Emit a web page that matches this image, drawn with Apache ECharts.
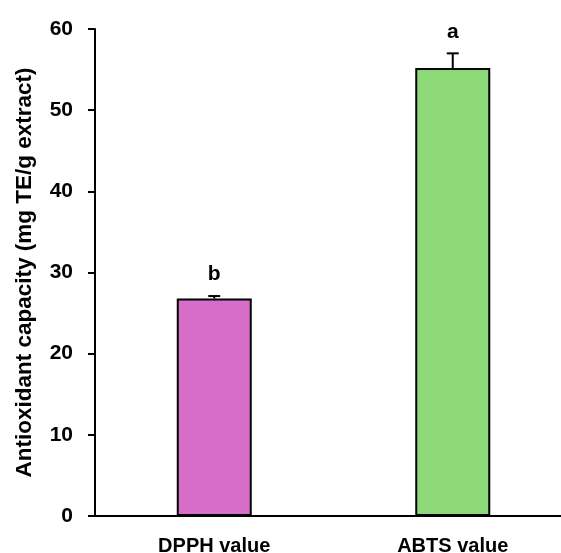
<!DOCTYPE html>
<html>
<head>
<meta charset="utf-8">
<script src="https://cdn.jsdelivr.net/npm/echarts@6/dist/echarts.min.js"></script>
<style>html,body{margin:0;padding:0;background:#fff}#c{width:561px;height:553px}</style>
</head>
<body>
<div id="c"></div>
<script>
var categories = ['DPPH value', 'ABTS value'];
var values = [26.8, 55.2];
var errors = [0.3, 1.8];
var letters = ['b', 'a'];
var colors = ['#D66DC8', '#8ED977'];
var yTicks = [0, 10, 20, 30, 40, 50, 60];

var FONT = 'Liberation Sans, Arial, sans-serif';
var chart = echarts.init(document.getElementById('c'));
chart.setOption({
  animation: false,
  backgroundColor: '#fff',
  grid: { left: 95, top: 29, bottom: 37, right: -11, containLabel: false, outerBoundsMode: 'none' },
  xAxis: {
    type: 'category',
    data: categories,
    axisLine: { lineStyle: { color: '#000', width: 2 } },
    axisTick: { show: false },
    axisLabel: { color: '#000', fontWeight: 'bold', fontSize: 20, fontFamily: FONT, margin: 20 }
  },
  yAxis: {
    type: 'value',
    min: yTicks[0], max: yTicks[yTicks.length - 1], interval: 10,
    name: 'Antioxidant capacity (mg TE/g extract)',
    nameLocation: 'middle',
    nameGap: 59,
    nameTextStyle: { color: '#000', fontWeight: 'bold', fontSize: 22.5, fontFamily: FONT },
    axisLine: { show: true, lineStyle: { color: '#000', width: 2 } },
    axisTick: { show: true, length: 7, lineStyle: { color: '#000', width: 2 } },
    splitLine: { show: false },
    axisLabel: { color: '#000', fontWeight: 'bold', fontSize: 21, fontFamily: FONT, margin: 22 }
  },
  series: [
    {
      type: 'bar',
      barWidth: 75,
      data: values.map(function (v, i) {
        return { value: v, itemStyle: { color: colors[i], borderColor: '#000', borderWidth: 2 } };
      })
    },
    {
      type: 'custom',
      data: values.map(function (v, i) { return [i, v, errors[i], letters[i]]; }),
      z: 5,
      renderItem: function (params, api) {
        var x = api.value(0);
        var v = api.value(1);
        var e = api.value(2);
        var base = api.coord([x, v]);
        var top = api.coord([x, v + e]);
        var cap = 6;
        return {
          type: 'group',
          children: [
            { type: 'line', shape: { x1: base[0], y1: base[1], x2: top[0], y2: top[1] }, style: { stroke: '#000', lineWidth: 2 } },
            { type: 'line', shape: { x1: top[0] - cap, y1: top[1], x2: top[0] + cap, y2: top[1] }, style: { stroke: '#000', lineWidth: 2 } },
            { type: 'text', x: top[0], y: top[1] - 11, style: { text: letters[params.dataIndex], fill: '#000', font: 'bold 21px ' + FONT, align: 'center', verticalAlign: 'bottom' } }
          ]
        };
      }
    }
  ]
});
</script>
</body>
</html>
